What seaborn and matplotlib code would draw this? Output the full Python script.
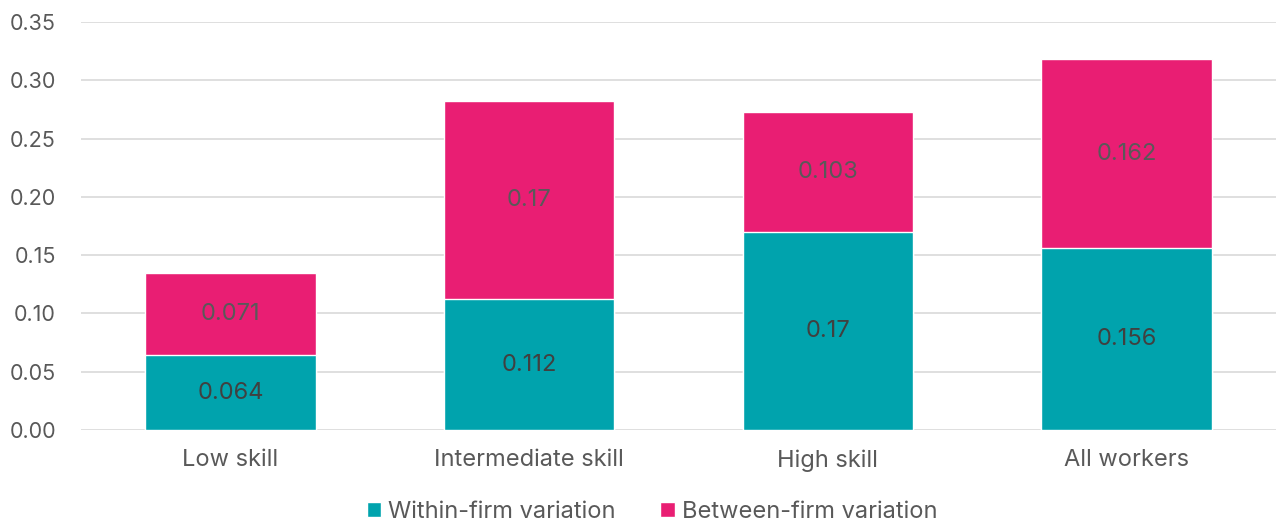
import matplotlib
matplotlib.use("Agg")
import matplotlib.pyplot as plt
from matplotlib.patches import Patch
import seaborn as sns
import pandas as pd

categories = ["Low skill", "Intermediate skill", "High skill", "All workers"]
within_firm = [0.064, 0.112, 0.17, 0.156]
between_firm = [0.071, 0.17, 0.103, 0.162]
series_names = ["Within-firm variation", "Between-firm variation"]

TEAL = "#00A3AD"
PINK = "#E91E73"
TEXT = "#595959"

sns.set_theme(style="white")
plt.rcParams["font.family"] = ["Inter", "DejaVu Sans"]

df = pd.DataFrame({"category": categories, "within": within_firm, "between": between_firm})
df["total"] = df["within"] + df["between"]

fig = plt.figure(figsize=(12.76, 5.22), dpi=100)
ax = fig.add_axes([0.0635, 0.1762, 0.9365, 0.7817])

# total height first (pink), then within-firm drawn over it (teal) -> stacked look
sns.barplot(data=df, x="category", y="total", color=PINK, width=0.57,
            saturation=1, ax=ax, zorder=3)
sns.barplot(data=df, x="category", y="within", color=TEAL, width=0.57,
            saturation=1, ax=ax, zorder=3)

for i, (w, b) in enumerate(zip(within_firm, between_firm)):
    ax.text(i, w / 2, f"{w:g}", ha="center", va="center", fontsize=17,
            color="#404040", zorder=4)
    ax.text(i, w + b / 2, f"{b:g}", ha="center", va="center", fontsize=17,
            color=TEXT, zorder=4)

ax.set_ylim(0, 0.35)
ax.set_yticks([i * 0.05 for i in range(8)])
ax.set_yticklabels([f"{i * 0.05:.2f}" for i in range(8)])
ax.set_xlim(-0.5, 3.5)
ax.yaxis.grid(True, color="#D9D9D9", linewidth=1.2, zorder=0)
ax.xaxis.grid(False)
for s in ax.spines.values():
    s.set_visible(False)
ax.set_xlabel("")
ax.set_ylabel("")
ax.tick_params(axis="both", length=0, labelcolor=TEXT)
ax.tick_params(axis="y", labelsize=15.5, pad=18)
ax.tick_params(axis="x", labelsize=17, pad=14)

handles = [Patch(facecolor=TEAL, label=series_names[0]),
           Patch(facecolor=PINK, label=series_names[1])]
leg = fig.legend(handles=handles, loc="center", bbox_to_anchor=(0.511, 0.019),
                 ncol=2, frameon=False, fontsize=17, handlelength=0.6,
                 handleheight=0.6, handletextpad=0.3, columnspacing=1.9)
for t in leg.get_texts():
    t.set_color(TEXT)

fig.savefig("out.png", dpi=100)
